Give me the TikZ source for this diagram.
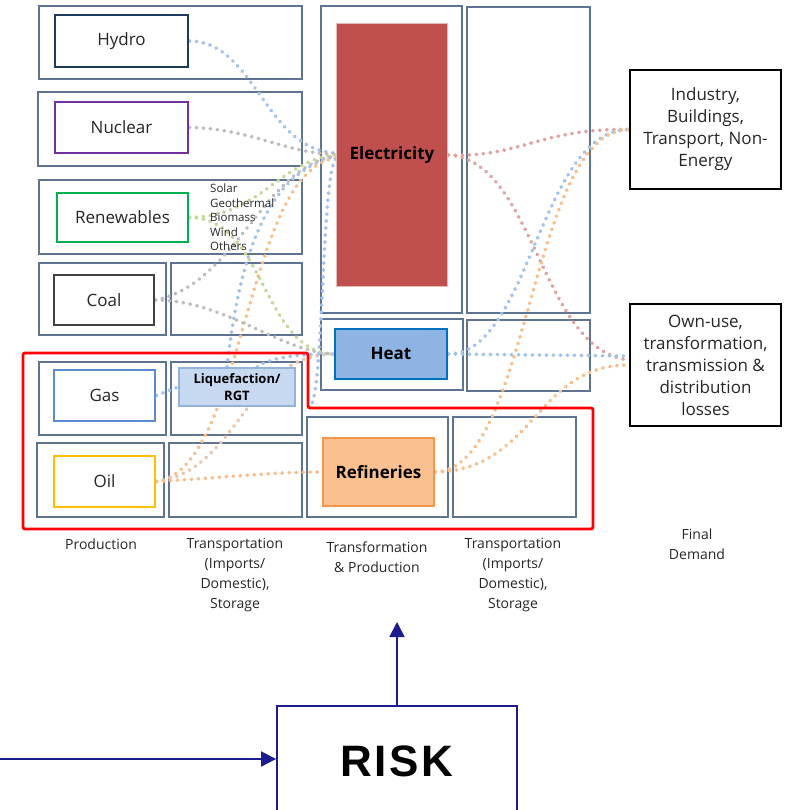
\documentclass[tikz,border=0pt]{standalone}
\usepackage{fontspec}
\setmainfont{Open Sans}
\newfontfamily\riskfont[LetterSpace=6]{Liberation Sans}
\usetikzlibrary{arrows.meta,backgrounds}
\definecolor{framec}{HTML}{5F7393}
\definecolor{txt}{HTML}{262626}
\definecolor{hydroc}{HTML}{1F3B5C}
\definecolor{nuclc}{HTML}{7030A0}
\definecolor{renc}{HTML}{00B050}
\definecolor{coalc}{HTML}{404040}
\definecolor{gasc}{HTML}{5B8BD0}
\definecolor{oilc}{HTML}{FFC000}
\definecolor{liqf}{HTML}{C6D9F1}
\definecolor{liqb}{HTML}{95B3D7}
\definecolor{elecf}{HTML}{C0504D}
\definecolor{elecb}{HTML}{E6B9B8}
\definecolor{heatf}{HTML}{8DB4E2}
\definecolor{heatb}{HTML}{0070C0}
\definecolor{reff}{HTML}{FAC090}
\definecolor{refb}{HTML}{F79646}
\definecolor{navy}{HTML}{1C1C8C}
\definecolor{fblue}{HTML}{A3C2EA}
\definecolor{fgray}{HTML}{BDBDBD}
\definecolor{fgreen}{HTML}{C3D69B}
\definecolor{forange}{HTML}{F5C08E}
\definecolor{fpeach}{HTML}{E3C6AC}
\definecolor{fpink}{HTML}{DEA3A1}
\begin{document}
\begin{tikzpicture}[x=1pt, y=-1pt,
    cellframe/.style={draw=framec, line width=1.4pt},
    src/.style={draw, line width=2.6pt, fill=white, text=txt, inner sep=0pt, font=\fontsize{17}{20}\selectfont},
    proc/.style={text=black, inner sep=0pt, font=\fontsize{17}{20}\selectfont\bfseries},
    demand/.style={draw=black, line width=2.6pt, fill=white, text=txt, minimum width=151pt, align=center, inner sep=0pt, font=\fontsize{17}{22}\selectfont},
    stage/.style={text=txt, align=center, inner sep=0pt, font=\fontsize{14}{20.3}\selectfont},
    flow/.style={line width=3.8pt, line cap=round, dash pattern=on 0.4pt off 6.6pt},
    riskarrow/.style={draw=navy, line width=1.8pt, -{Triangle[length=15pt,width=15pt]}}]
  \useasboundingbox (0,0) rectangle (785,810);

  \node[src, draw=hydroc, minimum width=133pt, minimum height=52pt] (hydro) at (121.5,41) {Hydro};
  \node[src, draw=nuclc, minimum width=133pt, minimum height=51pt] (nuclear) at (121.5,127.5) {Nuclear};
  \node[src, draw=renc, minimum width=131pt, minimum height=49pt] (renew) at (122.5,217.5) {Renewables};
  \node[src, draw=coalc, minimum width=100pt, minimum height=50pt] (coal) at (104,300) {Coal};
  \node[src, draw=gasc, minimum width=101pt, minimum height=51pt] (gas) at (104.5,395.5) {Gas};
  \node[src, draw=oilc, minimum width=101pt, minimum height=51pt] (oil) at (104.5,481.5) {Oil};
  \node[proc, draw=liqb, fill=liqf, line width=2pt, minimum width=116pt, minimum height=38pt, align=center,
        font=\fontsize{13}{16.5}\selectfont\bfseries] (liq) at (237,387) {Liquefaction/\\RGT};
  \node[proc, draw=elecb, fill=elecf, line width=1.5pt, minimum width=111pt, minimum height=263pt] (elec) at (392,155) {Electricity};
  \node[proc, draw=heatb, fill=heatf, line width=2.5pt, minimum width=112pt, minimum height=50pt] (heat) at (391,354) {Heat};
  \node[proc, draw=refb, fill=reff, line width=2.5pt, minimum width=111pt, minimum height=68pt] (refin) at (378.5,472) {Refineries};
  \node[demand, minimum height=119pt] (use) at (705.5,129.5) {Industry,\\Buildings,\\Transport, Non-\\Energy};
  \node[demand, minimum height=122pt] (loss) at (705.5,365) {Own-use,\\transformation,\\transmission \&\\distribution\\losses};
  \node[anchor=north west, align=left, text=txt, inner sep=0pt, font=\fontsize{11.5}{14.5}\selectfont] (kinds) at (210,184)
        {Solar\\Geothermal\\Biomass\\Wind\\Others};

  \node[stage] (prod) at (101,544) {Production};
  \node[stage] (trin) at (235,575) {Transportation\\(Imports/\\Domestic),\\Storage};
  \node[stage] (trans) at (377,557.5) {Transformation\\\& Production};
  \node[stage] (trout) at (513,575) {Transportation\\(Imports/\\Domestic),\\Storage};
  \node[stage] (final) at (697,544) {Final\\Demand};

  \begin{scope}[on background layer]
    \draw[cellframe] (39,6) rectangle (302,79);
    \draw[cellframe] (38,92) rectangle (302,166);
    \draw[cellframe] (39,180) rectangle (302,254);
    \draw[cellframe] (39,263) rectangle (166,335);
    \draw[cellframe] (171,263) rectangle (302,335);
    \draw[cellframe] (39,362) rectangle (166,435);
    \draw[cellframe] (171,362) rectangle (302,435);
    \draw[cellframe] (37,443) rectangle (164,517);
    \draw[cellframe] (169,443) rectangle (302,517);
    \draw[cellframe] (321,6) rectangle (462,313);
    \draw[cellframe] (467,7) rectangle (590,313);
    \draw[cellframe] (321,319) rectangle (463,390);
    \draw[cellframe] (467,320) rectangle (590,391);
    \draw[cellframe] (307,417) rectangle (448,517);
    \draw[cellframe] (453,417) rectangle (576,517);

    \draw[flow, draw=fblue] (hydro.east) .. controls (255,41) and (265,150) .. ([yshift=2pt]elec.west);
    \draw[flow, draw=fgray] (nuclear.east) .. controls (250,128) and (290,155) .. ([yshift=1pt]elec.west);
    \draw[flow, draw=fgreen] (renew.east) .. controls (260,217) and (280,160) .. (elec.west);
    \draw[flow, draw=fgray] (coal.east) .. controls (235,285) and (265,165) .. ([yshift=-1pt]elec.west);
    \draw[flow, draw=fblue] ([xshift=-10pt]liq.north) .. controls (240,250) and (270,170) .. ([yshift=-2pt]elec.west);
    \draw[flow, draw=forange] (oil.east) .. controls (245,470) and (245,170) .. ([yshift=-3pt]elec.west);
    \draw[flow, draw=fgreen] (renew.east) .. controls (265,217) and (262,352) .. (heat.west);
    \draw[flow, draw=fgray] (coal.east) .. controls (225,300) and (280,352) .. (heat.west);
    \draw[flow, draw=fblue] ([xshift=20pt]liq.north) .. controls (270,357) and (300,354) .. (heat.west);
    \draw[flow, draw=fpeach] (oil.east) .. controls (240,470) and (245,355) .. (heat.west);
    \draw[flow, draw=fblue] (gas.east) -- (liq.west);
    \draw[flow, draw=forange] (oil.east) .. controls (220,478) and (270,472) .. (refin.west);
    \coordinate (drop) at (312,404);
    \draw[flow, draw=fblue] ([yshift=-4pt]elec.west) .. controls (322,175) and (324,370) .. (drop);

    \draw[flow, draw=fpink] (elec.east) .. controls (520,158) and (540,128) .. (use.west);
    \draw[flow, draw=fpink] (elec.east) .. controls (535,160) and (540,350) .. ([yshift=5pt]loss.west);
    \draw[flow, draw=fblue] (heat.east) .. controls (530,354) and (540,130) .. (use.west);
    \draw[flow, draw=fblue] (heat.east) -- ([yshift=9pt]loss.west);
    \draw[flow, draw=forange] (refin.east) .. controls (530,470) and (530,130) .. (use.west);
    \draw[flow, draw=forange] (refin.east) .. controls (535,470) and (535,365) .. (loss.west);
  \end{scope}

  \draw[red, line width=2.8pt, rounded corners=2pt] (23,353) -- (308,353) -- (308,408) -- (593,408) -- (593,529) -- (23,529) -- cycle;

  \node[draw=navy, line width=1.8pt, minimum width=240pt, minimum height=110pt, text=black,
        font=\riskfont\bfseries\fontsize{44}{44}\selectfont] (risk) at (397,761) {RISK};
  \coordinate (riskin) at (-4,759);
  \coordinate (riskout) at (397,622);
  \draw[riskarrow] (riskin) -- (riskin -| risk.west);
  \draw[riskarrow] (risk.north) -- (riskout);
\end{tikzpicture}
\end{document}
